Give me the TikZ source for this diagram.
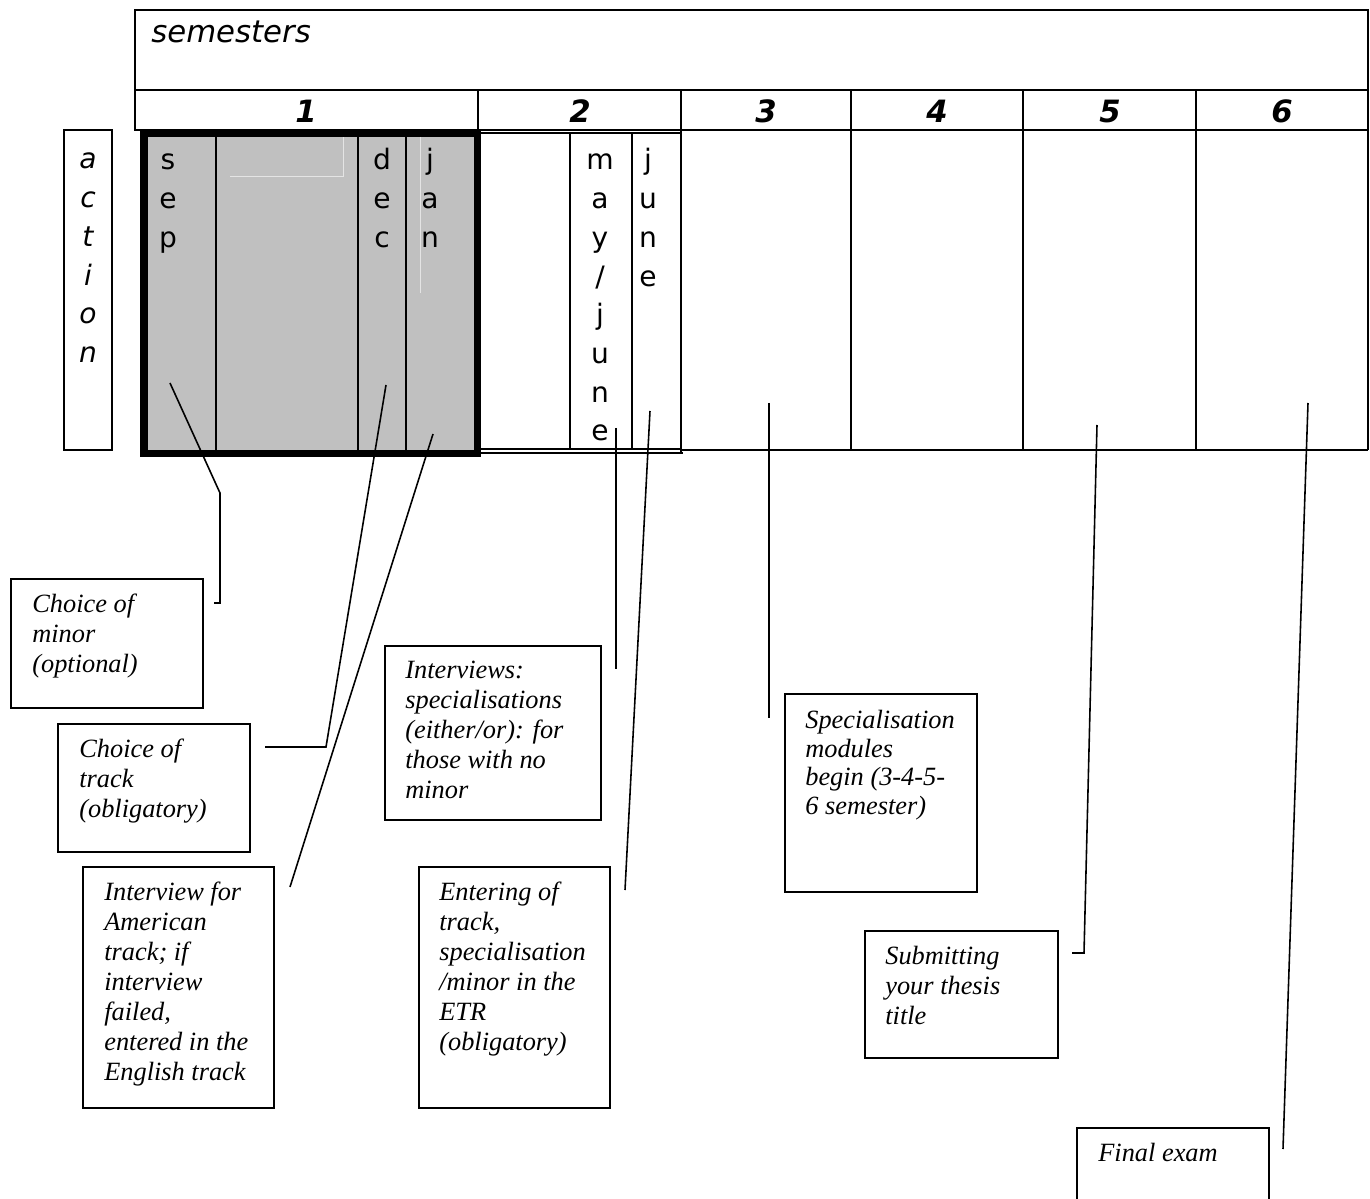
\documentclass[tikz,border=0pt]{standalone}
\usepackage{fontspec}
\setmainfont{Liberation Serif}
\newfontfamily\verdana{DejaVu Sans}
\usetikzlibrary{positioning}

\definecolor{shade}{HTML}{C0C0C0}
\definecolor{faint}{HTML}{E4E4E4}

\tikzset{
  tableline/.style={line width=1.1pt},
  thinline/.style={line width=0.6pt},
  note/.style={draw, line width=0.9pt, anchor=north west, inner sep=0pt},
  notetext/.style={inner sep=0pt, align=left, font=\fontsize{15}{17}\selectfont\itshape},
  letter/.style={anchor=base, inner sep=0pt, font=\verdana\fontsize{16}{18}\selectfont},
  slanted letter/.style={letter, font=\verdana\fontsize{16}{18}\selectfont\itshape},
  semnum/.style={anchor=base, inner sep=0pt, font=\verdana\fontsize{17.5}{20}\selectfont\bfseries\itshape},
  link/.style={line width=0.9pt},
}

\begin{document}
\begin{tikzpicture}[x=0.02cm, y=-0.02cm]
    \useasboundingbox (0,0) rectangle (1370,1199);

    % table
    \draw[tableline] (135,10) rectangle (1368,130);
    \draw[tableline] (135,90) -- (1368,90);
    \node[anchor=base west, inner sep=0pt, font=\verdana\fontsize{17.5}{20}\selectfont\itshape] (title) at (151,43) {semesters};
    \foreach \n/\x in {1/306,2/580,3/766,4/937,5/1110,6/1282}
        \node[semnum] (sem-\n) at (\x,123) {\n};
    \foreach \x in {478,681,851,1023,1196}
        \draw[tableline] (\x,90) -- (\x,130);
    \foreach \x in {851,1023,1196,1368}
        \draw[tableline] (\x,130) -- (\x,450);
    \draw[tableline] (681,450) -- (1368,450);

    % semester 2 months
    \draw[tableline] (481,133) -- (681,133);
    \draw[tableline] (481,449) -- (681,449);
    \draw[thinline] (481,453) -- (683,453);
    \draw[line width=1.6pt] (681,130) -- (681,453);
    \foreach \x in {570,632}
        \draw[thinline] (\x,133) -- (\x,449);

    % semester 1 months (shaded)
    \draw[fill=shade, line width=4.5pt] (144,133.5) rectangle (477.5,453.5);
    \draw[line width=0.5pt, faint] (230,176) -- (343,176) -- (343,137);
    \draw[line width=0.5pt, faint] (420,137) -- (420,293);
    \foreach \x in {216,358}
        \draw[thinline] (\x,137) -- (\x,450);
    \draw[tableline] (406,137) -- (406,450);

    % action column
    \draw[tableline] (64,130) rectangle (112,450);
    \foreach \c [count=\i from 0] in {a,c,t,i,o,n}
        \node[slanted letter] (act-\i) at (88,{169+38.7*\i}) {\c};

    \foreach \c [count=\i from 0] in {s,e,p}
        \node[letter] (sep-\i) at (168,{170+38.7*\i}) {\c};
    \foreach \c [count=\i from 0] in {d,e,c}
        \node[letter] (dec-\i) at (382,{170+38.7*\i}) {\c};
    \foreach \c [count=\i from 0] in {j,a,n}
        \node[letter] (jan-\i) at (430,{170+38.7*\i}) {\c};
    \foreach \c [count=\i from 0] in {m,a,y,/,j,u,n,e}
        \node[letter] (mayjune-\i) at (600,{170+38.7*\i}) {\c};
    \foreach \c [count=\i from 0] in {j,u,n,e}
        \node[letter] (june-\i) at (648,{170+38.7*\i}) {\c};

    % notes
    \node[note, minimum width=3.84cm, minimum height=2.58cm] (minor) at (10,578) {};
    \node[notetext, below right=0.32cm and 0.44cm of minor.north west] (minortext)
        {Choice of\\minor\\(optional)};

    \node[note, minimum width=3.84cm, minimum height=2.56cm] (track) at (57,723) {};
    \node[notetext, below right=0.32cm and 0.44cm of track.north west] (tracktext)
        {Choice of\\track\\(obligatory)};

    \node[note, minimum width=3.82cm, minimum height=4.82cm] (american) at (82,866) {};
    \node[notetext, below right=0.32cm and 0.44cm of american.north west] (americantext)
        {Interview for\\American\\track; if\\interview\\failed,\\entered in the\\English track};

    \node[note, minimum width=4.32cm, minimum height=3.48cm] (interviews) at (384,645) {};
    \node[notetext, below right=0.32cm and 0.42cm of interviews.north west] (interviewstext)
        {Interviews:\\specialisations\\(either/or): for\\those with no\\minor};

    \node[note, minimum width=3.82cm, minimum height=4.82cm] (entering) at (418,866) {};
    \node[notetext, below right=0.32cm and 0.42cm of entering.north west] (enteringtext)
        {Entering of\\track,\\specialisation\\/minor in the\\ETR\\(obligatory)};

    \node[note, minimum width=3.84cm, minimum height=3.96cm] (modules) at (784,693) {};
    \node[notetext, font=\fontsize{15}{16.3}\selectfont\itshape,
        below right=0.34cm and 0.42cm of modules.north west] (modulestext)
        {Specialisation\\modules\\begin (3-4-5-\\6 semester)};

    \node[note, minimum width=3.86cm, minimum height=2.54cm] (thesis) at (864,930) {};
    \node[notetext, below right=0.32cm and 0.42cm of thesis.north west] (thesistext)
        {Submitting\\your thesis\\title};

    \node[note, minimum width=3.84cm, minimum height=2.8cm] (final) at (1076,1127) {};
    \node[notetext, below right=0.32cm and 0.44cm of final.north west] (finaltext)
        {Final exam};

    % connectors
    \coordinate (sepPt) at (170,383);
    \coordinate (sepBend) at (220,493);
    \coordinate (sepEnd) at (214,603);
    \coordinate (decPt) at (386,385);
    \coordinate (decBend) at (326,747);
    \coordinate (decEnd) at (265,747);
    \coordinate (janPt) at (433,434);
    \coordinate (janEnd) at (290,887);
    \coordinate (mayPt) at (616,428);
    \coordinate (mayEnd) at (616,669);
    \coordinate (junePt) at (650,411);
    \coordinate (juneEnd) at (625,890);
    \coordinate (thirdPt) at (769,403);
    \coordinate (thirdEnd) at (769,718);
    \coordinate (fifthPt) at (1097,425);
    \coordinate (fifthBend) at (1084,953);
    \coordinate (fifthEnd) at (1072,953);
    \coordinate (sixthPt) at (1308,403);
    \coordinate (sixthEnd) at (1283,1149);

    \draw[link] (sepPt) -- (sepBend) |- (sepEnd);
    \draw[link] (decPt) -- (decBend) -- (decEnd);
    \draw[link] (janPt) -- (janEnd);
    \draw[link] (mayPt) -- (mayEnd);
    \draw[link] (junePt) -- (juneEnd);
    \draw[link] (thirdPt) -- (thirdEnd);
    \draw[link] (fifthPt) -- (fifthBend) -- (fifthEnd);
    \draw[link] (sixthPt) -- (sixthEnd);
\end{tikzpicture}
\end{document}
